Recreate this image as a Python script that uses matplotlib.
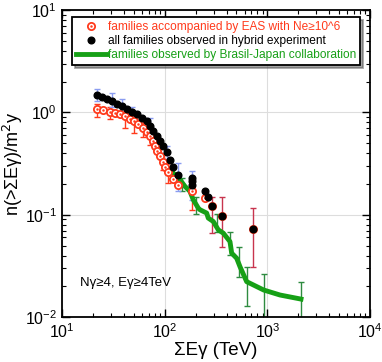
import matplotlib
matplotlib.use("Agg")
import matplotlib.pyplot as plt
from matplotlib.legend_handler import HandlerTuple
import numpy as np

plt.rcParams['font.family'] = ['Liberation Sans', 'DejaVu Sans']

# all families observed in hybrid experiment (black)
all_x = [21.8, 24.4, 27.2, 30.5, 34.1, 38.1, 42.7, 47.7, 53.4, 59.7, 66.8, 71.9,
         77.5, 83.6, 90.0, 96.9, 104.5, 112.7, 121.3, 135.6, 183.3, 183.3, 185.6,
         246.6, 266.0, 287.0, 359.0, 730.0]
all_y = [1.47, 1.43, 1.36, 1.29, 1.22, 1.15, 1.07, 1.01, 0.956, 0.887, 0.822, 0.734,
         0.657, 0.587, 0.523, 0.467, 0.408, 0.346, 0.294, 0.247, 0.229, 0.212, 0.197,
         0.172, 0.148, 0.122, 0.0977, 0.073]
# blue error bars on black points
allerr_x = [21.8, 30.5, 38.1, 47.7, 71.9, 104.5, 135.6, 183.3]
allerr_y = [1.47, 1.29, 1.15, 1.01, 0.734, 0.408, 0.247, 0.229]
allerr_lo = [1.28, 1.12, 0.98, 0.90, 0.60, 0.35, 0.169, 0.14]
allerr_hi = [1.68, 1.56, 1.34, 1.127, 0.887, 0.467, 0.321, 0.266]

# families accompanied by EAS with Ne>=10^6 (red)
eas_x = [21.8, 25.2, 29.3, 32.8, 36.7, 41.0, 45.9, 50.6, 55.3, 61.9, 66.8, 71.9,
         76.4, 80.5, 84.8, 90.0, 95.6, 100.7, 106.9, 119.6, 135.6, 183.3, 246.6,
         287.0, 359.0, 730.0]
eas_y = [1.087, 1.046, 1.016, 0.993, 0.956, 0.920, 0.867, 0.822, 0.763, 0.708, 0.641,
         0.586, 0.523, 0.467, 0.418, 0.373, 0.326, 0.294, 0.260, 0.224, 0.197, 0.169,
         0.146, 0.122, 0.0977, 0.073]
easerr_x = [21.8, 29.3, 41.0, 50.6, 61.9, 71.9, 95.6, 106.9, 183.3]
easerr_y = [1.087, 1.016, 0.920, 0.822, 0.708, 0.586, 0.326, 0.260, 0.169]
easerr_lo = [0.899, 0.854, 0.708, 0.632, 0.57, 0.48, 0.276, 0.205, 0.112]
easerr_hi = [1.197, 1.127, 1.10, 0.98, 0.85, 0.68, 0.38, 0.32, 0.23]
# crimson error bars on highest-energy points
hi_x = [287.0, 359.0, 730.0]
hi_y = [0.122, 0.0977, 0.073]
hi_lo = [0.067, 0.0489, 0.0307]
hi_hi = [0.149, 0.149, 0.1163]

# Brasil-Japan collaboration (green)
bj_x = [121.2, 140.9, 157.7, 176.4, 189.9, 212.4, 220.7, 256.4, 265.7, 297.3, 332.6,
        372.1, 432.3, 449.1, 502.4, 541.1, 628.6, 920.0, 1327.0, 2124.0]
bj_y = [0.256, 0.2203, 0.1895, 0.1692, 0.1403, 0.1163, 0.112, 0.104, 0.0929, 0.086,
        0.0713, 0.0662, 0.0547, 0.0422, 0.0376, 0.0311, 0.0222, 0.0184, 0.01644, 0.0150]
bjerr_x = [146.4, 201.8, 320.6, 432.0, 532.4, 628.6, 927.0, 2124.0]
bjerr_y = [0.205, 0.125, 0.083, 0.0547, 0.036, 0.0222, 0.0184, 0.0150]
bjerr_lo = [0.169, 0.1016, 0.0683, 0.0406, 0.0248, 0.0128, 0.005, 0.005]
bjerr_hi = [0.230, 0.148, 0.1008, 0.0686, 0.0482, 0.0311, 0.0264, 0.0219]

RED = '#ff3a1c'
GREEN = '#16a016'
GREEN_ERR = '#2e8b40'
BLUE_ERR = '#8a9cf0'
CRIMSON = '#c8344e'


def yerr(y, lo, hi):
    y = np.asarray(y)
    return [y - np.asarray(lo), np.asarray(hi) - y]


fig = plt.figure(figsize=(3.82, 3.62), dpi=100)
ax = fig.add_axes([0.162, 0.124, 0.807, 0.848])
ax.set_xscale('log')
ax.set_yscale('log')
ax.set_xlim(10, 1e4)
ax.set_ylim(1e-2, 10)

ax.grid(True, which='major', color='#dddddd', linewidth=0.8, zorder=0)

# green line + error bars
ax.errorbar(bjerr_x, bjerr_y, yerr=yerr(bjerr_y, bjerr_lo, bjerr_hi), fmt='none',
            ecolor=GREEN_ERR, elinewidth=1.0, capsize=2.5, capthick=1.0, zorder=2)
line_bj, = ax.plot(bj_x, bj_y, color=GREEN, lw=3.5, solid_joinstyle='round', zorder=3)

# error bars
ax.errorbar(easerr_x, easerr_y, yerr=yerr(easerr_y, easerr_lo, easerr_hi), fmt='none',
            ecolor=RED, elinewidth=1.0, capsize=2.5, capthick=1.0, zorder=2)
ax.errorbar(allerr_x, allerr_y, yerr=yerr(allerr_y, allerr_lo, allerr_hi), fmt='none',
            ecolor=BLUE_ERR, elinewidth=1.0, capsize=2.5, capthick=1.0, zorder=2)
ax.errorbar(hi_x, hi_y, yerr=yerr(hi_y, hi_lo, hi_hi), fmt='none',
            ecolor=CRIMSON, elinewidth=1.0, capsize=2.5, capthick=1.0, zorder=2)

# red open circles with center dots
red_o, = ax.plot(eas_x, eas_y, 'o', ms=5.2, mfc='white', mec=RED, mew=1.3,
                 linestyle='none', zorder=4)
red_d, = ax.plot(eas_x, eas_y, 'o', ms=1.4, mfc=RED, mec=RED, mew=0.3,
                 linestyle='none', zorder=5)
# black points
blk, = ax.plot(all_x, all_y, 'o', ms=4.8, color='black', linestyle='none', zorder=6)

ax.tick_params(which='both', direction='in', top=True, right=True, labelsize=11.5)
ax.tick_params(which='major', length=6, width=1.0)
ax.tick_params(which='minor', length=3, width=0.8)
for s in ax.spines.values():
    s.set_linewidth(1.3)

ax.set_xlabel('ΣEγ (TeV)', fontsize=13.5, labelpad=1)
ax.set_ylabel('n(>ΣEγ)/m$^2$y', fontsize=13, labelpad=0)

ax.text(0.06, 0.1, 'Nγ≥4, Eγ≥4TeV', transform=ax.transAxes, fontsize=9.5)

leg = ax.legend([(red_o, red_d), blk, line_bj],
                ['families accompanied by EAS with Ne≥10^6',
                 'all families observed in hybrid experiment',
                 'families observed by Brasil-Japan collaboration'],
                handler_map={tuple: HandlerTuple(ndivide=1)},
                loc='upper center', bbox_to_anchor=(0.5, 0.985), fontsize=8.6,
                frameon=True, fancybox=False, shadow=True, edgecolor='black',
                handlelength=2.6, handletextpad=0.1, borderpad=0.3, labelspacing=0.2,
                borderaxespad=0.2)
leg.get_frame().set_linewidth(1.3)
for t, c in zip(leg.get_texts(), [RED, 'black', GREEN]):
    t.set_color(c)

fig.savefig('out.png', dpi=100)
